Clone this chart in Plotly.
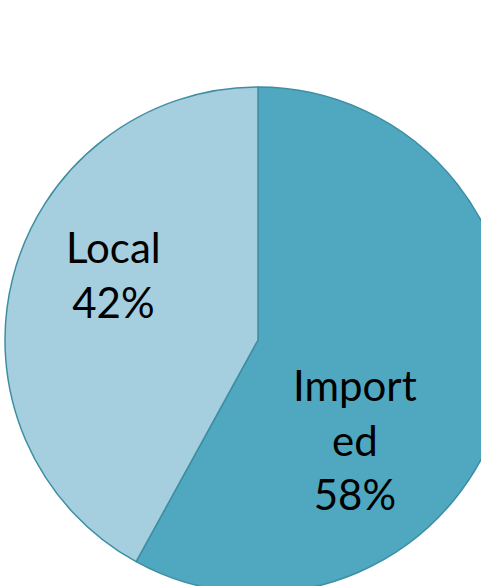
import plotly.graph_objects as go

# Share of supply by origin
labels = ["Imported", "Local"]
values = [58, 42]
display_text = ["Import<br>ed", "Local"]
colors = ["#4fa8bf", "#a5cfdf"]

W, H = 530, 610
cx, cy, r = 258, 340, 253  # pie centre and radius in pixels

fig = go.Figure(
    go.Pie(
        labels=labels,
        values=values,
        sort=False,
        direction="clockwise",
        rotation=0,
        textinfo="none",
        hoverinfo="label+percent",
        marker=dict(colors=colors, line=dict(color="#3e8ea3", width=1.5)),
        domain=dict(x=[(cx - r) / W, (cx + r) / W], y=[1 - (cy + r) / H, 1 - (cy - r) / H]),
        showlegend=False,
    )
)

total = sum(values)
label_pos = {"Imported": (355, 439), "Local": (113, 274)}
for lab, val, txt in zip(labels, values, display_text):
    px, py = label_pos[lab]
    fig.add_annotation(
        x=px / W, y=1 - py / H, xref="paper", yref="paper",
        text=f"{txt}<br>{round(100 * val / total)}%",
        showarrow=False, xanchor="center", yanchor="middle",
        font=dict(family="Lato", size=42, color="#000000"),
    )

fig.update_layout(
    width=W, height=H,
    margin=dict(l=0, r=0, t=0, b=0),
    paper_bgcolor="white",
    plot_bgcolor="white",
)

fig.write_html(
    "out.html",
    post_script="document.body.style.margin='0';document.body.style.overflow='hidden';",
)
